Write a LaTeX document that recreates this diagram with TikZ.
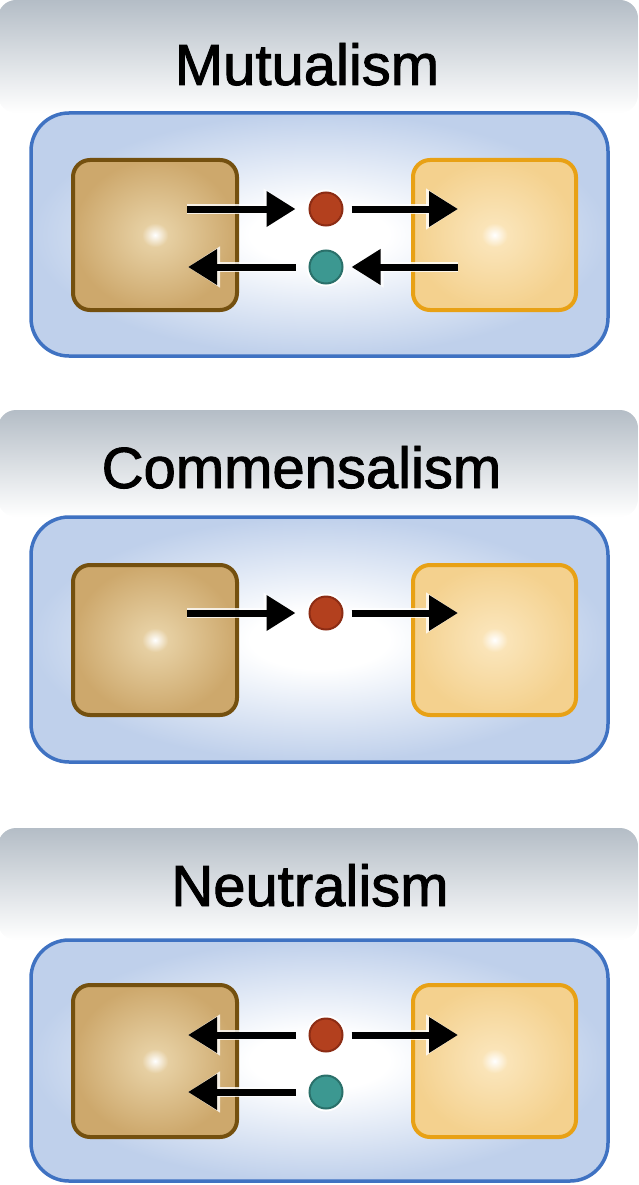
\documentclass[tikz,border=0pt]{standalone}
\usepackage{fontspec}
\setmainfont{Liberation Sans}
\newfontfamily\titlefont{Liberation Sans}[FakeBold=1.6]
\usetikzlibrary{arrows.meta}
\definecolor{hdrgray}{HTML}{B4BDC6}
\definecolor{bborder}{HTML}{3F72C2}
\definecolor{bfill}{HTML}{BFD0EB}
\definecolor{lborder}{HTML}{74500F}
\definecolor{lout}{HTML}{CDA86C}
\definecolor{lmid}{HTML}{E6CFA2}
\definecolor{rborder}{HTML}{E8A115}
\definecolor{rout}{HTML}{F4D18E}
\definecolor{rmid}{HTML}{FAE4B8}
\definecolor{dotred}{HTML}{B3401E}
\definecolor{dotredb}{HTML}{8C2C14}
\definecolor{dotteal}{HTML}{3C9891}
\definecolor{dottealb}{HTML}{2A706A}
\pgfdeclareradialshading{lshade}{\pgfpoint{0bp}{0bp}}{color(0bp)=(white); color(4bp)=(lmid); color(25bp)=(lout); color(50bp)=(lout)}
\pgfdeclareradialshading{rshade}{\pgfpoint{0bp}{0bp}}{color(0bp)=(white); color(4bp)=(rmid); color(25bp)=(rout); color(50bp)=(rout)}
\pgfdeclareradialshading{bshade}{\pgfpoint{0bp}{0bp}}{color(0bp)=(white); color(6bp)=(white); color(25bp)=(bfill); color(50bp)=(bfill)}
\begin{document}
\begin{tikzpicture}[x=1pt,y=-1pt,
  hdr/.style={rounded corners=18pt, top color=hdrgray, middle color=hdrgray!55!white, bottom color=white, minimum width=640pt, inner sep=0pt, draw=none},
  title/.style={font=\titlefont\fontsize{58}{60}\selectfont, anchor=base, inner sep=0pt},
  outerbox/.style={draw=bborder, line width=3.5pt, rounded corners=38pt, shade, shading=bshade, minimum width=577pt, inner sep=0pt},
  lbox/.style={draw=lborder, line width=4pt, rounded corners=17pt, shade, shading=lshade, minimum width=164pt, minimum height=150pt, inner sep=0pt},
  rbox/.style={draw=rborder, line width=4pt, rounded corners=17pt, shade, shading=rshade, minimum width=163pt, minimum height=150pt, inner sep=0pt},
  dotnode/.style={circle, inner sep=0pt, minimum size=33pt, line width=2pt, preaction={draw=white, line width=6pt}},
  reddot/.style={dotnode, fill=dotred, draw=dotredb},
  tealdot/.style={dotnode, fill=dotteal, draw=dottealb},
  arr/.style={line width=7pt, -{Triangle[length=29pt,width=34pt]},
    preaction={draw=white, draw opacity=0.8, line width=10pt, -{Triangle[length=32pt,width=39pt]}}}
]
\useasboundingbox (0,0) rectangle (639,1185);

% ---------- Panel 1: Mutualism ----------
\node[hdr, minimum height=113pt] (h1) at (318,56.5) {};
\node[title] (t1) at (307,85) {Mutualism};
\node[outerbox, minimum height=243pt] (o1) at (319.5,234.5) {};
\node[lbox] (l1) at (155,235) {};
\node[rbox] (r1) at (494.5,235) {};
\node[reddot] (red1) at (326,209) {};
\node[tealdot] (teal1) at (326,267) {};
\coordinate (p1a) at (187,209);
\coordinate (p1b) at (458,209);
\coordinate (p1c) at (188,267);
\coordinate (p1d) at (458,267);
\draw[arr, shorten >=13pt] (p1a) -- (red1);
\draw[arr, shorten <=8pt] (red1) -- (p1b);
\draw[arr, shorten <=13pt] (teal1) -- (p1c);
\draw[arr, shorten >=8pt] (p1d) -- (teal1);

% ---------- Panel 2: Commensalism ----------
\node[hdr, minimum height=107pt] (h2) at (318,463.5) {};
\node[title] (t2) at (301.5,488) {Commensalism};
\node[outerbox, minimum height=245pt] (o2) at (319.5,639.5) {};
\node[lbox] (l2) at (155,640) {};
\node[rbox] (r2) at (494.5,640) {};
\node[reddot] (red2) at (326,613) {};
\coordinate (p2a) at (187,613);
\coordinate (p2b) at (458,613);
\draw[arr, shorten >=13pt] (p2a) -- (red2);
\draw[arr, shorten <=8pt] (red2) -- (p2b);

% ---------- Panel 3: Neutralism ----------
\node[hdr, minimum height=112pt] (h3) at (318,884) {};
\node[title] (t3) at (310,906) {Neutralism};
\node[outerbox, minimum height=241pt] (o3) at (319.5,1060.5) {};
\node[lbox, minimum height=152pt] (l3) at (155,1061) {};
\node[rbox, minimum height=152pt] (r3) at (494.5,1061) {};
\node[reddot] (red3) at (326,1035) {};
\node[tealdot] (teal3) at (326,1092) {};
\coordinate (p3a) at (188,1035);
\coordinate (p3b) at (458,1035);
\coordinate (p3c) at (188,1092);
\draw[arr, shorten <=13pt] (red3) -- (p3a);
\draw[arr, shorten <=8pt] (red3) -- (p3b);
\draw[arr, shorten <=13pt] (teal3) -- (p3c);
\end{tikzpicture}
\end{document}
